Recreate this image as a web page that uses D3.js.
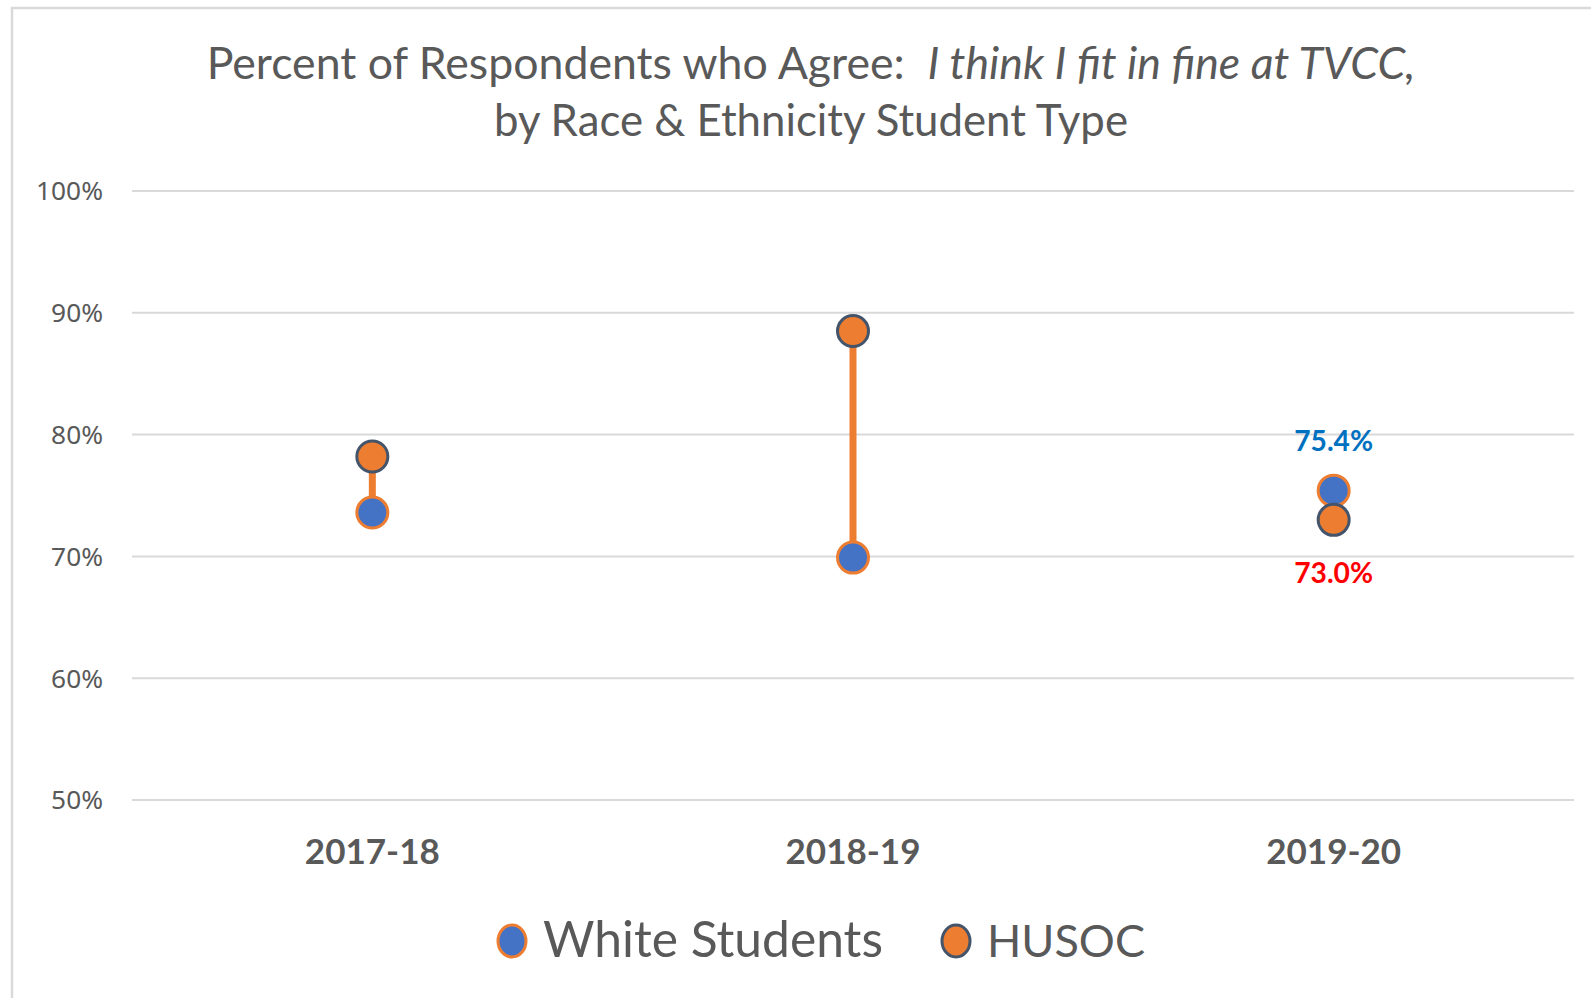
<!DOCTYPE html>
<html>
<head>
<meta charset="utf-8">
<script src="https://cdn.jsdelivr.net/npm/d3@7"></script>
<style>
  html, body { margin: 0; padding: 0; background: #fff; }
  svg { display: block; }
</style>
</head>
<body>
<div id="chart"></div>
<script>
// data
const years = ["2017-18", "2018-19", "2019-20"];
const whiteStudents = [73.6, 69.9, 75.4];
const husoc = [78.2, 88.5, 73.0];
const yTicks = [50, 60, 70, 80, 90, 100];
const seriesNames = ["White Students", "HUSOC"];
// only the last year gets value labels
const labelYear = "2019-20";

const W = 1591, H = 998;
const margin = {top: 191, right: 17, bottom: 198, left: 132};

const svg = d3.select("#chart").append("svg")
    .attr("width", W)
    .attr("height", H);

// chart frame (only top and left edges are visible in the crop)
svg.append("path")
    .attr("d", `M12,${H} L12,8 L${W},8`)
    .attr("fill", "none")
    .attr("stroke", "#d9d9d9")
    .attr("stroke-width", 2.5);

const x = d3.scaleBand()
    .domain(years)
    .range([margin.left, W - margin.right]);

const y = d3.scaleLinear()
    .domain([50, 100])
    .range([H - margin.bottom, margin.top]);

// shrink/grow a text so it spans a given width
function fitWidth(sel, target) {
    const node = sel.node();
    const size = parseFloat(sel.attr("font-size"));
    const len = node.getComputedTextLength();
    sel.attr("font-size", size * target / len);
}

// title
const title = svg.append("text")
    .attr("x", 811)
    .attr("y", 79)
    .attr("text-anchor", "middle")
    .attr("font-family", "Lato, 'Open Sans', sans-serif")
    .attr("font-size", 40)
    .attr("fill", "#595959");
title.append("tspan").text("Percent of Respondents who Agree:\u00a0\u00a0");
title.append("tspan").attr("font-style", "italic").text("I think I fit in fine at TVCC,");
fitWidth(title, 1209);

const title2 = svg.append("text")
    .attr("x", 811)
    .attr("y", 136)
    .attr("text-anchor", "middle")
    .attr("font-family", "Lato, 'Open Sans', sans-serif")
    .attr("font-size", 40)
    .attr("fill", "#595959")
    .text("by Race & Ethnicity Student Type");
fitWidth(title2, 634);

// gridlines
svg.append("g")
    .selectAll("line")
    .data(yTicks)
    .enter()
    .append("line")
    .attr("x1", margin.left)
    .attr("x2", W - margin.right)
    .attr("y1", d => y(d))
    .attr("y2", d => y(d))
    .attr("stroke", "#d9d9d9")
    .attr("stroke-width", 2);

// y axis labels
const yLabels = svg.append("g")
    .selectAll("text")
    .data(yTicks)
    .enter()
    .append("text")
    .attr("x", 103)
    .attr("y", d => y(d))
    .attr("dy", "0.36em")
    .attr("text-anchor", "end")
    .attr("font-family", "'Noto Sans', 'Open Sans', sans-serif")
    .attr("font-size", 22)
    .attr("fill", "#595959")
    .text(d => d + "%");
// size all of them from the widest one ("100%")
const topLabel = yLabels.filter(d => d === 100);
fitWidth(topLabel, 67);
yLabels.attr("font-size", topLabel.attr("font-size"));

// x axis labels
svg.append("g")
    .selectAll("text")
    .data(years)
    .enter()
    .append("text")
    .attr("x", d => x(d) + x.bandwidth() / 2)
    .attr("y", 864)
    .attr("text-anchor", "middle")
    .attr("font-family", "Lato, 'Open Sans', sans-serif")
    .attr("font-weight", "bold")
    .attr("font-size", 34)
    .attr("fill", "#595959")
    .text(d => d)
    .each(function() { fitWidth(d3.select(this), 135); });

const rows = years.map((yr, i) => ({year: yr, white: whiteStudents[i], husoc: husoc[i]}));
const cx = d => x(d.year) + x.bandwidth() / 2;

// connecting lines
svg.append("g")
    .selectAll("line")
    .data(rows)
    .enter()
    .append("line")
    .attr("x1", cx)
    .attr("x2", cx)
    .attr("y1", d => y(d.white))
    .attr("y2", d => y(d.husoc))
    .attr("stroke", "#ed7d31")
    .attr("stroke-width", 7);

const R = 15.5;

// white students markers
svg.append("g")
    .selectAll("circle")
    .data(rows)
    .enter()
    .append("circle")
    .attr("cx", cx)
    .attr("cy", d => y(d.white))
    .attr("r", R)
    .attr("fill", "#4472c4")
    .attr("stroke", "#ed7d31")
    .attr("stroke-width", 3);

// HUSOC markers
svg.append("g")
    .selectAll("circle")
    .data(rows)
    .enter()
    .append("circle")
    .attr("cx", cx)
    .attr("cy", d => y(d.husoc))
    .attr("r", R)
    .attr("fill", "#ed7d31")
    .attr("stroke", "#44546a")
    .attr("stroke-width", 3);

// value labels for the last year
const last = rows.filter(d => d.year === labelYear);
svg.append("g")
    .selectAll("text")
    .data(last)
    .enter()
    .append("text")
    .attr("x", cx)
    .attr("y", d => y(d.white) - 40)
    .attr("text-anchor", "middle")
    .attr("font-family", "Lato, 'Open Sans', sans-serif")
    .attr("font-weight", "bold")
    .attr("font-size", 26)
    .attr("fill", "#0070c0")
    .text(d => d.white.toFixed(1) + "%")
    .each(function() { fitWidth(d3.select(this), 79); });

svg.append("g")
    .selectAll("text")
    .data(last)
    .enter()
    .append("text")
    .attr("x", cx)
    .attr("y", d => y(d.husoc) + 63)
    .attr("text-anchor", "middle")
    .attr("font-family", "Lato, 'Open Sans', sans-serif")
    .attr("font-weight", "bold")
    .attr("font-size", 26)
    .attr("fill", "#ff0000")
    .text(d => d.husoc.toFixed(1) + "%")
    .each(function() { fitWidth(d3.select(this), 79); });

// legend
const legendStyle = [
    {fill: "#4472c4", stroke: "#ed7d31", cx: 512, tx: 543, w: 340},
    {fill: "#ed7d31", stroke: "#44546a", cx: 956, tx: 987, w: 158}
];
const legend = svg.append("g");
seriesNames.forEach((name, i) => {
    const s = legendStyle[i];
    legend.append("ellipse")
        .attr("cx", s.cx)
        .attr("cy", 941)
        .attr("rx", 14)
        .attr("ry", 16)
        .attr("fill", s.fill)
        .attr("stroke", s.stroke)
        .attr("stroke-width", 3);
    const t = legend.append("text")
        .attr("x", s.tx)
        .attr("y", 957)
        .attr("font-family", "Lato, 'Open Sans', sans-serif")
        .attr("font-size", 46)
        .attr("fill", "#595959")
        .text(name);
    fitWidth(t, s.w);
});
</script>
</body>
</html>
